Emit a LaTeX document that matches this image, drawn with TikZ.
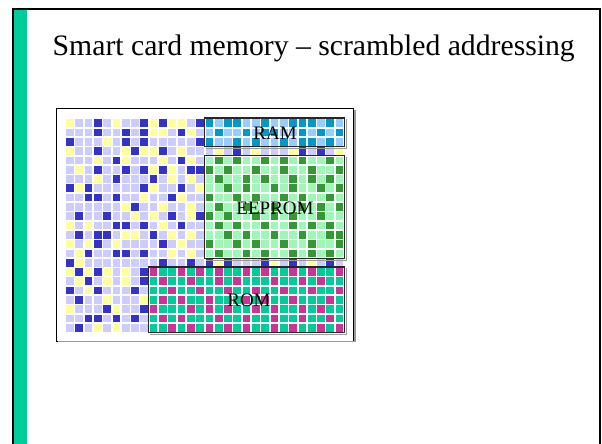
\documentclass[tikz,border=0pt]{standalone}
\usepackage{fontspec}
\setmainfont{Liberation Serif}

% palette
\definecolor{slidegreen}{RGB}{0,204,153}
\definecolor{scrY}{RGB}{255,255,153}
\definecolor{scrL}{RGB}{204,204,255}
\definecolor{scrD}{RGB}{51,51,204}
\definecolor{ramlight}{RGB}{153,204,255}
\definecolor{ramdark}{RGB}{0,153,204}
\definecolor{eelight}{RGB}{160,245,185}
\definecolor{eedark}{RGB}{51,153,51}
\definecolor{rommag}{RGB}{204,51,153}
\definecolor{romgreen}{RGB}{0,204,153}

% one row of memory cells, one letter per cell
\newcount\cellcol
\def\cellrowidx{0}
\newcommand\cellrow[2]{\def\cellrowidx{#1}\cellcol=0 \cellparse#2\relax}
\def\cellparse#1{\ifx#1\relax\else
  \fill[cell#1] ({66+9.3*\the\cellcol},{119.3+9.3*\cellrowidx}) rectangle ++(7.7,7.7);%
  \advance\cellcol by 1 \expandafter\cellparse\fi}

\tikzset{
  cellY/.style={fill=scrY}, cellL/.style={fill=scrL}, cellD/.style={fill=scrD},
  cella/.style={fill=ramlight}, cellb/.style={fill=ramdark},
  cellg/.style={fill=eelight}, cellG/.style={fill=eedark},
  cellm/.style={fill=rommag}, cellt/.style={fill=romgreen},
  membox/.style={draw=black!85, line width=1.1pt, inner sep=0pt},
  boxshadow/.style={draw=black!40, line width=1.3pt},
  memlabel/.style={inner sep=0pt, font=\fontsize{19}{19}\selectfont},
}

\begin{document}
\begin{tikzpicture}[x=1pt,y=-1pt]
\useasboundingbox (0,0) rectangle (602,444);
\fill[white] (0,0) rectangle (602,444);

% slide frame and side bar
\fill[black] (12,8.3) rectangle (601,10.1);
\fill[black] (12,8.3) rectangle (14,444);
\fill[black] (599,8.3) rectangle (601,444);
\fill[slidegreen] (14,10.1) rectangle (27,444);

\node (title) [anchor=base west, inner sep=0pt, font=\fontsize{29.7}{30}\selectfont]
  at (52.5,56) {Smart card memory – scrambled addressing};

% memory cells
\cellrow{0}{YLLDLYLLDYDYYLDbabbaabaabbbaba}
\cellrow{1}{LLLDLLDLDYYLDYLabaababbaababab}
\cellrow{2}{DLLLYLDLDLLLLLDbaababaababbaba}
\cellrow{3}{YLLDLLYDYYDLYLLLYLDLYLLLYDLDLY}
\cellrow{4}{LLLYLDYLLLYLDYLgGgGggGgGgGggGg}
\cellrow{5}{LYLDLLDLDYDYLDDGgGggGggGggGggG}
\cellrow{6}{LLLYLDLLLDLYLYLgGggGgGggGgGgGg}
\cellrow{7}{DYDLLLLLDYLLDLYggGgGggGgGggGgG}
\cellrow{8}{LLDDLDLLYLLDYLLGggGgGggGgGggGg}
\cellrow{9}{LLLLLLYDLLYLLYLgGggGggGggGgGgG}
\cellrow{10}{LDLLDLLYLYLDLYDGgGggGgGgGggGgg}
\cellrow{11}{YLYLLDDLDLYLDLLgGgGggGggGgGgGg}
\cellrow{12}{LDLDDLYYLDLYLYLggGgGggGggGggGG}
\cellrow{13}{YLYDLYLLLLDLYLLGggGgGggGggGggG}
\cellrow{14}{LYDLLDDLDLLYLYLgGggGgGggGgGgGg}
\cellrow{15}{DYLLLLLLLLDLLDLDYDLLLDYLDLYLDL}
\cellrow{16}{YDYDYLYLDmttmtmtmttmtmttmtmttm}
\cellrow{17}{LYDLYLYLDtmttmttmtmtttmttmtmtt}
\cellrow{18}{DLYDLLLDLttmttmttmttmttmttmttm}
\cellrow{19}{LDLLYLLLYtmtmttmtttmtmttmtttmt}
\cellrow{20}{YLLLDYLLDmtttmtmtmttmtmttmtmtt}
\cellrow{21}{LLDDLDLDLtmtmtttmttmttmttmttmt}
\cellrow{22}{LDLYLYLLLttmtmtmtmtmttmtmttmtm}

% outer panel
\node (panel) [draw=black, line width=1pt, inner sep=0pt,
  minimum width=297pt, minimum height=233pt] at (204.5,224.5) {};
\draw[boxshadow] ([xshift=1.4pt,yshift=-2pt]panel.north east)
  |- ([xshift=2pt]panel.south west);

% memory regions
\node (ram) [membox, minimum width=140.3pt, minimum height=28.5pt] at (274.65,132.25) {};
\node (eeprom) [membox, minimum width=140.3pt, minimum height=102.9pt] at (274.65,206.75) {};
\node (rom) [membox, minimum width=196.1pt, minimum height=65.6pt] at (246.75,299.8) {};
\foreach \b in {ram,eeprom,rom}
  \draw[boxshadow] ([xshift=1.4pt,yshift=-2pt]\b.north east)
    |- ([xshift=2pt,yshift=-1.4pt]\b.south west);

\node (ramlabel) [memlabel] at (275,133.5) {RAM};
\node (eepromlabel) [memlabel] at (275,208.5) {EEPROM};
\node (romlabel) [memlabel] at (249,300) {ROM};
\end{tikzpicture}
\end{document}
